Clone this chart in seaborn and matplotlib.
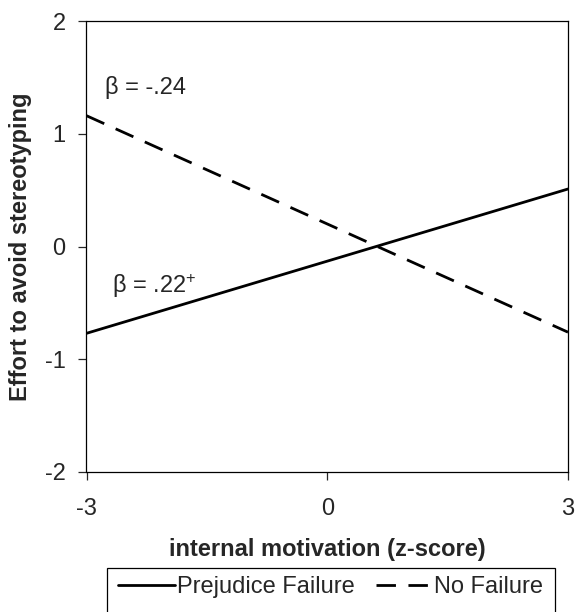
import matplotlib
matplotlib.use("Agg")
import matplotlib.pyplot as plt
from matplotlib.patches import Rectangle
from matplotlib.lines import Line2D
import seaborn as sns
import pandas as pd

# data
motivation = [-3, 3]
prejudice_failure = [-0.77, 0.51]
no_failure = [1.16, -0.76]
conditions = ["Prejudice Failure", "No Failure"]
x_ticks = [-3, 0, 3]
y_ticks = [-2, -1, 0, 1, 2]
beta_labels = ["β = -.24", "β = .22$^{+}$"]

df = pd.DataFrame({
	"x": motivation + motivation,
	"y": prejudice_failure + no_failure,
	"condition": [conditions[0]] * 2 + [conditions[1]] * 2,
})

FS = 17

sns.set_style("white")
plt.rcParams.update({
	"font.family": ["Liberation Sans", "DejaVu Sans"],
	"font.size": FS,
	"mathtext.default": "regular",
	"axes.edgecolor": "black",
	"axes.linewidth": 0.9,
	"xtick.major.size": 6,
	"ytick.major.size": 6,
	"xtick.major.width": 0.9,
	"ytick.major.width": 0.9,
	"xtick.bottom": True,
	"ytick.left": True,
})

fig = plt.figure(figsize=(5.75, 6.12), dpi=100)
ax = fig.add_axes([86.5 / 575, 1 - 472 / 612, (568 - 86.5) / 575, (472 - 21) / 612])

sns.lineplot(data=df, x="x", y="y", style="condition",
	dashes={conditions[0]: "", conditions[1]: (7, 4.5)},
	color="black", linewidth=2.0, ax=ax, legend=False)

ax.set_xlim(-3, 3)
ax.set_ylim(-2, 2)
ax.set_xticks(x_ticks)
ax.set_yticks(y_ticks)
ax.set_xticklabels([str(t) for t in x_ticks])
ax.set_yticklabels([str(t) for t in y_ticks])
ax.tick_params(axis="x", pad=13, labelsize=FS)
ax.tick_params(axis="y", pad=9, labelsize=FS)
for s in ax.spines.values():
	s.set_visible(True)
	s.set_color("black")

ax.set_xlabel("internal motivation (z-score)", fontweight="bold", fontsize=FS, labelpad=13)
ax.set_ylabel("Effort to avoid stereotyping", fontweight="bold", fontsize=FS, labelpad=9)

ax.text(-2.77, 1.41, beta_labels[0], fontsize=FS, va="center", ha="left")
ax.text(-2.68, -0.355, beta_labels[1], fontsize=FS, va="center", ha="left")

handles = [
	Line2D([], [], color="black", linewidth=2.0),
	Line2D([], [], color="black", linewidth=2.0, dashes=(7, 4.5)),
]
fig.legend(handles, conditions, loc="center left",
	bbox_to_anchor=(118 / 575, 1 - 587 / 612), ncol=2, frameon=False,
	fontsize=FS, handlelength=2.4, handletextpad=0.08, columnspacing=0.9,
	borderpad=0.0, borderaxespad=0.0)
# open-bottomed legend frame, as in the reference
fig.add_artist(Rectangle((107 / 575, -0.05), 448 / 575, 0.05 + 1 - 568 / 612,
	transform=fig.transFigure, fill=False, edgecolor="black", linewidth=0.9))

fig.savefig("out.png", dpi=100)
